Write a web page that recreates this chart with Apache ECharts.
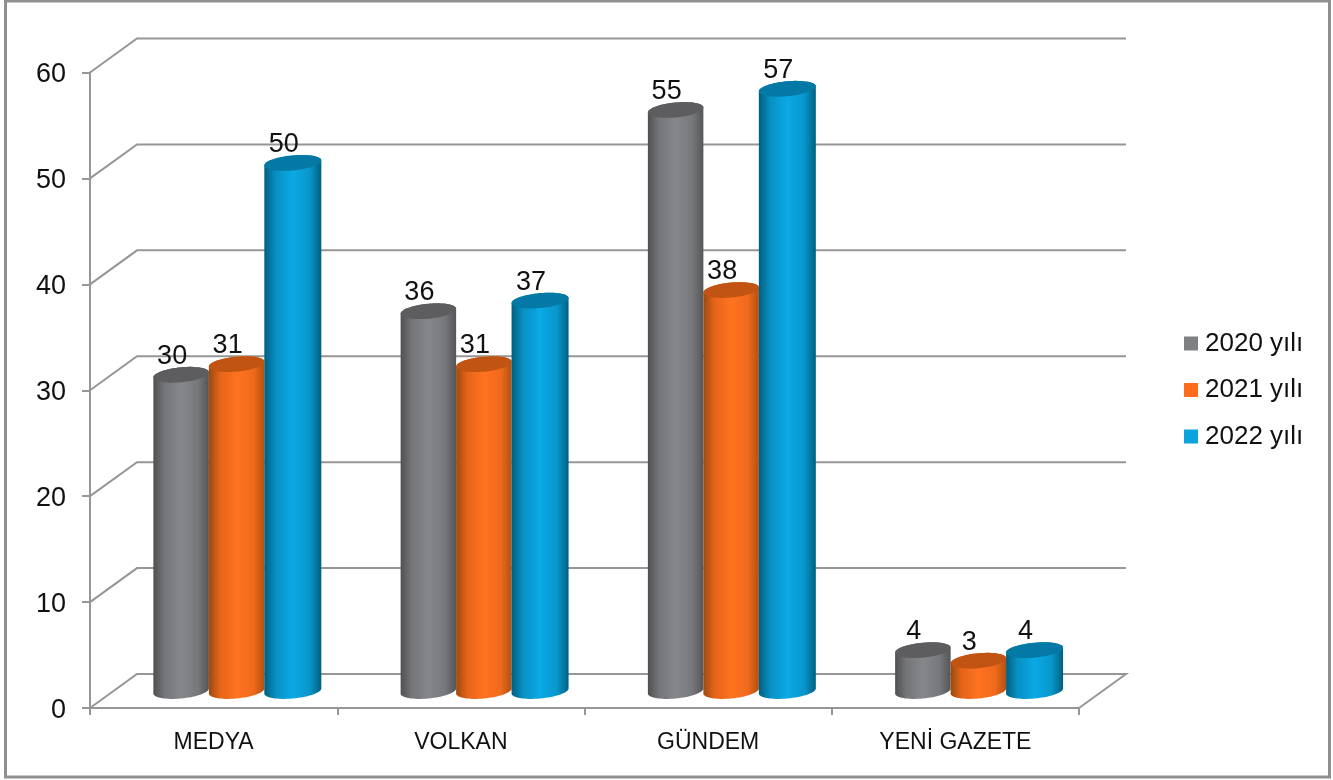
<!DOCTYPE html>
<html>
<head>
<meta charset="utf-8">
<style>html,body{margin:0;padding:0;background:#fff}#c{width:1333px;height:780px}</style>
<script src="https://cdn.jsdelivr.net/npm/echarts@6/dist/echarts.min.js"></script>
</head>
<body>
<div id="c"></div>
<script>
const categories = ['MEDYA', 'VOLKAN', 'GÜNDEM', 'YENİ GAZETE'];
const seriesNames = ['2020 yılı', '2021 yılı', '2022 yılı'];
const values2020 = [30, 36, 55, 4];
const values2021 = [31, 31, 38, 3];
const values2022 = [50, 37, 57, 4];
const yTicks = [0, 10, 20, 30, 40, 50, 60];

const FONT = '"Liberation Sans", Arial, sans-serif';
const DX = 47, DY = -34, BAR = 55.5, RY = 7.5, TILT = 2.5, LIFT = 1.5;
const GRID_COLOR = '#969696';

const palettes = [
  { base: '#7f8084', top: '#5d5d5f', width: 55.5, shift: -0.5, stops: ['#505052', '#747579', '#86878b', '#77787c', '#555658'] },
  { base: '#ff6d1c', top: '#c25413', width: 55.5, shift: -0.5, stops: ['#9a4a10', '#e5641a', '#ff7220', '#f06a1c', '#b25213'] },
  { base: '#0aa3dc', top: '#0579a6', width: 57, shift: 0.2, stops: ['#005f80', '#0890c2', '#0aa9e6', '#0896ca', '#005f80'] }
];

function ellipsePts(cx, cy, w, from, to, n) {
  const pts = [];
  for (let i = 0; i <= n; i++) {
    const t = from + (to - from) * i / n;
    pts.push([cx + w / 2 * Math.cos(t), cy + RY * Math.sin(t) - TILT * Math.cos(t)]);
  }
  return pts;
}

function cylinder(idx) {
  const pal = palettes[idx];
  return function (params, api) {
    const cat = api.value(0), val = api.value(1);
    const top = api.coord([cat, val]), base = api.coord([cat, 0]);
    const cx = top[0] + DX / 2 + (idx - 1) * BAR + pal.shift;
    const yTop = top[1] + DY / 2 + LIFT, yBase = base[1] + DY / 2;
    const w = pal.width;
    const body = ellipsePts(cx, yBase, w, Math.PI, 0, 32).concat(ellipsePts(cx, yTop, w, 0, -Math.PI, 32));
    const cap = ellipsePts(cx, yTop, w, 0, Math.PI * 2, 64);
    return {
      type: 'group',
      children: [
        {
          type: 'polygon', shape: { points: body },
          style: {
            fill: {
              type: 'linear', x: 0, y: 0, x2: 1, y2: 0,
              colorStops: [0, 0.2, 0.5, 0.8, 1].map((o, i) => ({ offset: o, color: pal.stops[i] }))
            }
          }
        },
        { type: 'polygon', shape: { points: cap }, style: { fill: pal.top } },
        {
          type: 'text', z2: 100,
          style: {
            x: cx - 9, y: yTop - 18.5, text: String(val), fill: '#111',
            font: '27px ' + FONT, align: 'center', verticalAlign: 'middle'
          }
        }
      ]
    };
  };
}

function wallLines(params, api) {
  const y = api.coord([0, api.value(1)])[1];
  const L = params.coordSys.x, R = L + params.coordSys.width;
  const style = { stroke: GRID_COLOR, lineWidth: 2, fill: null };
  const pts = [[L, y], [L + DX, y + DY], [R + DX, y + DY]];
  if (api.value(1) === 0) pts.push([R, y]);
  return { type: 'polyline', shape: { points: pts }, style };
}

const seriesValues = [values2020, values2021, values2022];
const option = {
  animation: false,
  backgroundColor: '#fff',
  textStyle: { fontFamily: FONT },
  graphic: [{
    type: 'rect', shape: { x: 5.5, y: 1, width: 1324, height: 776 },
    style: { fill: null, stroke: '#8f8f8f', lineWidth: 3 }, silent: true
  }],
  legend: {
    data: seriesNames, orient: 'vertical', left: 1184, top: 330.5, padding: 0,
    itemWidth: 14, itemHeight: 14, itemGap: 20.5, icon: 'rect',
    selectedMode: false,
    textStyle: { fontSize: 26, color: '#111', fontFamily: FONT, padding: [0, 0, 0, 2] }
  },
  grid: { left: 90, top: 72.5, width: 989, height: 635.5, containLabel: false },
  xAxis: {
    type: 'category', data: categories,
    axisLine: { lineStyle: { color: GRID_COLOR, width: 2 } },
    axisTick: { show: true, length: 7, alignWithLabel: false, lineStyle: { color: GRID_COLOR, width: 2 } },
    axisLabel: { fontSize: 23, color: '#111', margin: 23, interval: 0 },
    splitLine: { show: false }
  },
  yAxis: {
    type: 'value', min: 0, max: 60, interval: 10,
    axisLine: { show: true, lineStyle: { color: GRID_COLOR, width: 2 } },
    axisTick: { show: true, length: 8, lineStyle: { color: GRID_COLOR, width: 2 } },
    axisLabel: {
      margin: 24, formatter: '{v|{value}}',
      rich: { v: { fontSize: 27, color: '#111', fontFamily: FONT, padding: [5, 0, 0, 0] } }
    },
    splitLine: { show: false }
  },
  series: [
    {
      type: 'custom', silent: true, z: 1,
      data: yTicks.map(v => [0, v]), encode: { x: 0, y: 1 },
      renderItem: wallLines
    }
  ].concat(seriesNames.map((name, idx) => ({
    type: 'custom', name, z: 2 + idx, silent: true,
    itemStyle: { color: palettes[idx].base },
    data: seriesValues[idx].map((v, i) => [i, v]), encode: { x: 0, y: 1 },
    renderItem: cylinder(idx)
  })))
};
echarts.init(document.getElementById('c'), null, { renderer: 'canvas' }).setOption(option);
</script>
</body>
</html>
